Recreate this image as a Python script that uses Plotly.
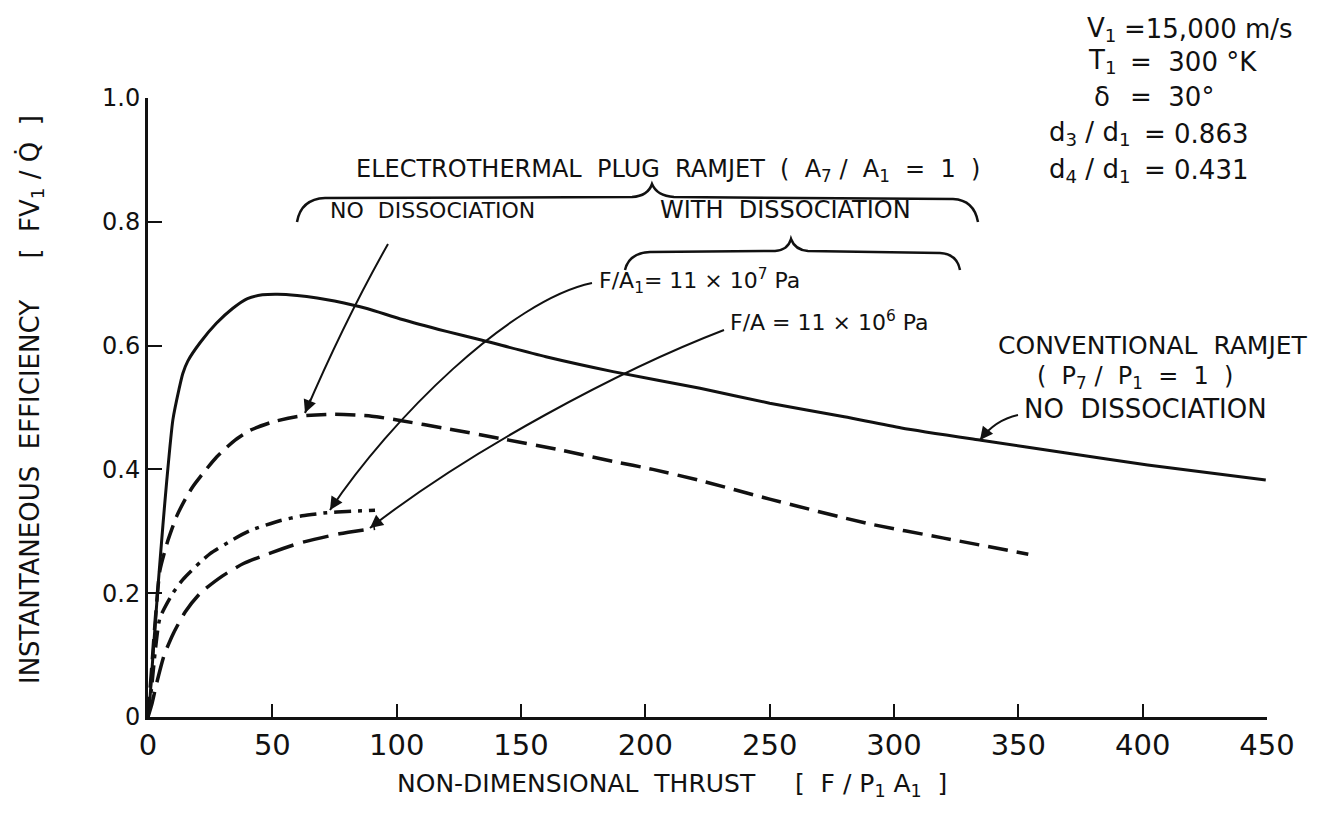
import plotly.graph_objects as go

# ---------------- data ----------------
conv_x = [0, 0.8, 2, 4.2, 6, 7.5, 10, 12.5, 14, 16, 21, 27.5, 34, 40, 46, 52, 60, 68, 75, 88,
          101.5, 120, 134, 160, 187, 222, 250, 280, 303, 335, 370, 402, 449.5]
conv_y = [0, 0.03, 0.1, 0.22, 0.31, 0.38, 0.48, 0.53, 0.555, 0.575, 0.605, 0.636, 0.66, 0.676,
          0.682, 0.683, 0.681, 0.677, 0.672, 0.66, 0.643, 0.623, 0.609, 0.582, 0.558, 0.531,
          0.507, 0.485, 0.467, 0.447, 0.426, 0.407, 0.383]

nodis_x = [0, 1.5, 3, 4.8, 8, 11.5, 15, 18, 21, 27.6, 34.3, 41, 50.4, 61, 74.5, 90, 101.4,
           120, 141.6, 165, 187, 203, 222, 250, 289, 320, 354]
nodis_y = [0, 0.08, 0.16, 0.237, 0.285, 0.324, 0.352, 0.372, 0.388, 0.42, 0.445, 0.463, 0.477,
           0.486, 0.489, 0.486, 0.479, 0.466, 0.45, 0.432, 0.413, 0.4, 0.382, 0.352,
           0.313, 0.289, 0.263]

dis7_x = [0, 1.5, 3, 4.8, 10, 14, 21, 25, 34.3, 41, 53, 62, 72, 80, 91.3]
dis7_y = [0, 0.05, 0.11, 0.16, 0.2, 0.222, 0.25, 0.264, 0.287, 0.301, 0.317, 0.325, 0.33, 0.332, 0.334]

dis6_x = [0, 1.5, 3.5, 6.5, 10.2, 15, 21, 30, 38.4, 50, 61, 77, 91.3]
dis6_y = [0, 0.02, 0.055, 0.1, 0.135, 0.17, 0.2, 0.228, 0.248, 0.266, 0.281, 0.296, 0.305]

x_ticks = [0, 50, 100, 150, 200, 250, 300, 350, 400, 450]
y_ticks = [0, 0.2, 0.4, 0.6, 0.8, 1.0]
y_tick_text = ["0", "0.2", "0.4", "0.6", "0.8", "1.0"]

# ---------------- layout helpers (pixel -> data / paper) ----------------
W, H = 1325, 818
L, R, T, B = 148, 58, 98, 101
XMAX, YMAX = 450, 1.0
PW, PH = W - L - R, H - T - B
XPX = PW / XMAX
YPX = PH / YMAX


def dx(px):
    return (px - L) / XPX


def dy(py):
    return (H - B - py) / YPX


def fx(px):
    return (px - L) / PW


def fy(py):
    return (H - B - py) / PH


def path(cmds):
    out = []
    for c in cmds:
        op = c[0]
        pts = c[1:]
        s = op
        for i in range(0, len(pts), 2):
            s += " %.4f,%.5f" % (dx(pts[i]), dy(pts[i + 1]))
        out.append(s)
    return " ".join(out)


FONT = "DejaVu Sans"
BLACK = "#111111"

fig = go.Figure()

fig.add_trace(go.Scatter(x=conv_x, y=conv_y, mode="lines",
                         line=dict(color=BLACK, width=3, shape="spline", smoothing=0.6),
                         showlegend=False, hoverinfo="skip"))
fig.add_trace(go.Scatter(x=nodis_x, y=nodis_y, mode="lines",
                         line=dict(color=BLACK, width=3.5, dash="20px,9px", shape="spline", smoothing=0.6),
                         showlegend=False, hoverinfo="skip"))
fig.add_trace(go.Scatter(x=dis7_x, y=dis7_y, mode="lines",
                         line=dict(color=BLACK, width=3.5, dash="17px,7px,4px,7px", shape="spline", smoothing=0.6),
                         showlegend=False, hoverinfo="skip"))
fig.add_trace(go.Scatter(x=dis6_x, y=dis6_y, mode="lines",
                         line=dict(color=BLACK, width=3.5, dash="26px,10px", shape="spline", smoothing=0.6),
                         showlegend=False, hoverinfo="skip"))

shapes = []
# braces
shapes.append(dict(type="path", xref="x", yref="y", line=dict(color=BLACK, width=2.5),
                   path=path([("M", 297, 222), ("Q", 301, 199, 325, 198), ("L", 632, 197),
                              ("Q", 648, 196, 652, 184), ("Q", 657, 196, 674, 197), ("L", 953, 199),
                              ("Q", 974, 200, 978, 222)])))
shapes.append(dict(type="path", xref="x", yref="y", line=dict(color=BLACK, width=2.5),
                   path=path([("M", 625, 270), ("Q", 629, 253, 650, 252), ("L", 775, 251),
                              ("Q", 788, 250, 791, 239), ("Q", 795, 250, 808, 251), ("L", 940, 253),
                              ("Q", 957, 254, 960, 270)])))
# arrow bodies
arrow_w = 2
shapes.append(dict(type="path", xref="x", yref="y", line=dict(color=BLACK, width=arrow_w),
                   path=path([("M", 388, 244), ("Q", 345, 320, 305, 413)])))
shapes.append(dict(type="path", xref="x", yref="y", line=dict(color=BLACK, width=arrow_w),
                   path=path([("M", 592, 283), ("C", 510, 300, 390, 420, 330, 510)])))
shapes.append(dict(type="path", xref="x", yref="y", line=dict(color=BLACK, width=arrow_w),
                   path=path([("M", 724, 330), ("C", 620, 370, 470, 450, 370, 528)])))
shapes.append(dict(type="path", xref="x", yref="y", line=dict(color=BLACK, width=arrow_w),
                   path=path([("M", 1018, 415), ("Q", 995, 420, 980, 440)])))

ann = []


def head(tip, back):
    ann.append(dict(x=dx(tip[0]), y=dy(tip[1]), ax=dx(back[0]), ay=dy(back[1]),
                    xref="x", yref="y", axref="x", ayref="y", text="", showarrow=True,
                    arrowhead=2, arrowsize=1.3, arrowwidth=2, arrowcolor=BLACK, standoff=0))


head((305, 413), (311, 398))
head((330, 510), (337, 499))
head((370, 528), (380, 520))
head((980, 440), (987, 431))


def txt(text, px, py, size=20, anchor="center", angle=0):
    ann.append(dict(x=fx(px), y=fy(py), xref="paper", yref="paper", text=text, showarrow=False,
                    xanchor=anchor, yanchor="middle", textangle=angle,
                    font=dict(family=FONT, size=size, color=BLACK)))


txt("ELECTROTHERMAL  PLUG  RAMJET  (  A<sub>7</sub> /  A<sub>1</sub>  =  1  )", 668, 170, 24)
txt("NO  DISSOCIATION", 432, 210, 22)
txt("WITH  DISSOCIATION", 785, 210, 24)
txt("F/A<sub>1</sub>= 11 × 10<sup>7</sup> Pa", 597, 281, 22, "left")
txt("F/A = 11 × 10<sup>6</sup> Pa", 728, 321, 22, "left")
txt("CONVENTIONAL  RAMJET", 1153, 345, 25)
txt("(  P<sub>7</sub> /  P<sub>1</sub>  =  1  )", 1135, 377, 24)
txt("NO  DISSOCIATION", 1022, 409, 26, "left")

# parameter block (top right)
txt("V<sub>1</sub>", 1118, 29, 26, "right")
txt("=15,000 m/s", 1122, 29, 26, "left")
txt("T<sub>1</sub>", 1118, 62, 26, "right")
txt("=  300 °K", 1128, 62, 26, "left")
txt("δ", 1112, 97, 26, "right")
txt("=  30°", 1128, 97, 26, "left")
txt("d<sub>3</sub> / d<sub>1</sub>", 1132, 134, 26, "right")
txt("= 0.863", 1142, 134, 26, "left")
txt("d<sub>4</sub> / d<sub>1</sub>", 1132, 170, 26, "right")
txt("= 0.431", 1142, 170, 26, "left")

# axis titles
txt("INSTANTANEOUS  EFFICIENCY     [  FV<sub>1</sub> / Q̇  ]", 31, 400, 26, "center", -90)
txt("NON-DIMENSIONAL  THRUST     [  F / P<sub>1</sub> A<sub>1</sub>  ]", 672, 785, 25)

fig.update_layout(
    width=W, height=H,
    margin=dict(l=L, r=R, t=T, b=B),
    paper_bgcolor="white", plot_bgcolor="white",
    shapes=shapes, annotations=ann,
    xaxis=dict(range=[0, XMAX], tickvals=x_ticks, ticks="inside", ticklen=13, tickwidth=2,
               tickcolor=BLACK, showline=True, linewidth=3, linecolor=BLACK, showgrid=False,
               zeroline=False, tickfont=dict(family=FONT, size=29, color=BLACK)),
    yaxis=dict(range=[0, YMAX], tickvals=y_ticks, ticktext=y_tick_text, ticks="inside",
               ticklen=14, tickwidth=2, tickcolor=BLACK, showline=True, linewidth=3,
               linecolor=BLACK, showgrid=False, zeroline=False,
               tickfont=dict(family=FONT, size=24, color=BLACK)),
)

fig.write_html("out.html")
